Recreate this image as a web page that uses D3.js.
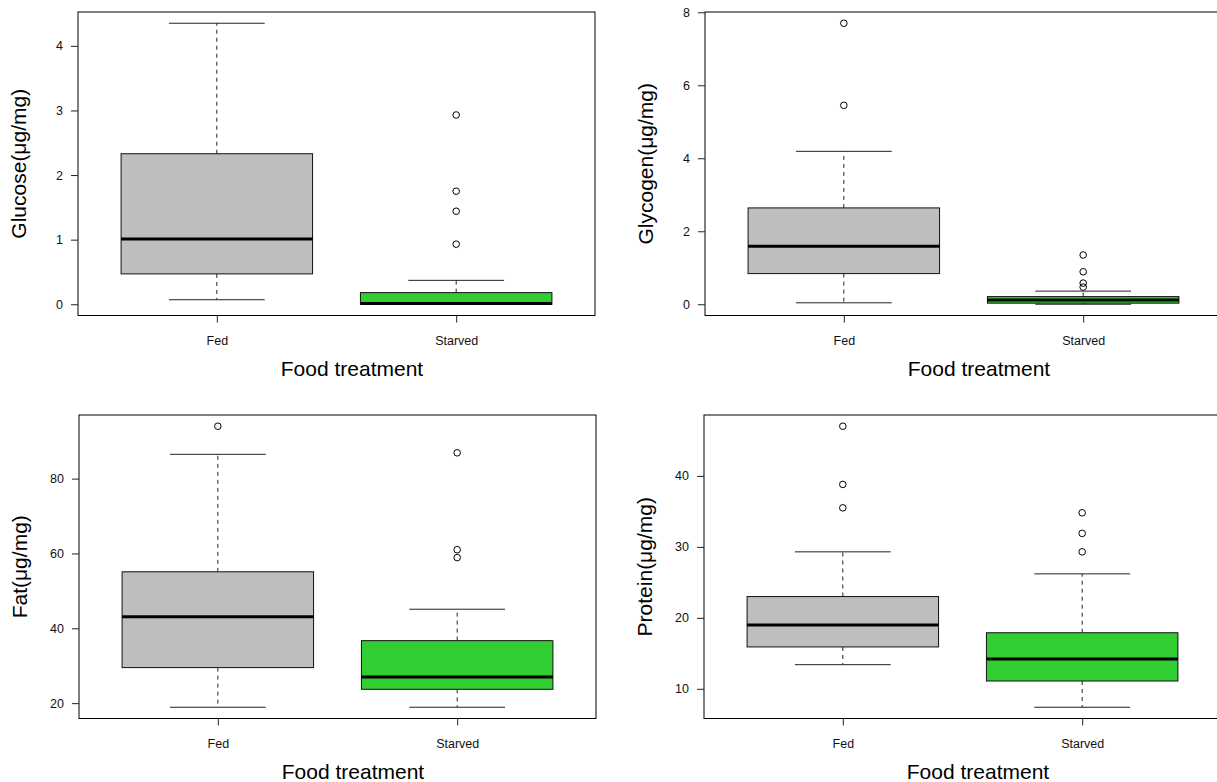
<!DOCTYPE html>
<html>
<head>
<meta charset="utf-8">
<script src="https://cdn.jsdelivr.net/npm/d3@7"></script>
<style>
  html, body { margin: 0; padding: 0; background: #fff; }
  svg { display: block; font-family: "Liberation Sans", Arial, Helvetica, sans-serif; }
</style>
</head>
<body>
<svg id="chart" width="1217" height="782"></svg>
<script>
// Treatment groups on the x axis
const groups = ["Fed", "Starved"];
const xTitle = "Food treatment";

// Five-number summaries: [lower whisker, Q1, median, Q3, upper whisker]
const glucoseFed = [0.07, 0.47, 1.01, 2.33, 4.35];
const glucoseStarved = [0.0, 0.0, 0.01, 0.18, 0.37];
const glucoseFedOut = [];
const glucoseStarvedOut = [0.93, 1.44, 1.75, 2.93];
const glucoseTicks = [0, 1, 2, 3, 4];

const glycogenFed = [0.04, 0.84, 1.59, 2.64, 4.19];
const glycogenStarved = [0.0, 0.03, 0.12, 0.21, 0.36];
const glycogenFedOut = [5.45, 7.70];
const glycogenStarvedOut = [0.47, 0.58, 0.89, 1.35];
const glycogenTicks = [0, 2, 4, 6, 8];

const fatFed = [18.9, 29.5, 43.1, 55.1, 86.5];
const fatStarved = [18.9, 23.7, 27.0, 36.7, 45.1];
const fatFedOut = [94.0];
const fatStarvedOut = [58.9, 61.0, 86.9];
const fatTicks = [20, 40, 60, 80];

const proteinFed = [13.4, 15.9, 19.0, 23.0, 29.3];
const proteinStarved = [7.4, 11.1, 14.2, 17.9, 26.2];
const proteinFedOut = [35.5, 38.8, 47.0];
const proteinStarvedOut = [29.3, 31.9, 34.8];
const proteinTicks = [10, 20, 30, 40];

const fills = ["#bebebe", "#32cd32"];

const panels = [
  { title: "Glucose(μg/mg)", stats: [glucoseFed, glucoseStarved], out: [glucoseFedOut, glucoseStarvedOut], ticks: glucoseTicks, left: 78, top: 12 },
  { title: "Glycogen(μg/mg)", stats: [glycogenFed, glycogenStarved], out: [glycogenFedOut, glycogenStarvedOut], ticks: glycogenTicks, left: 705, top: 12 },
  { title: "Fat(μg/mg)", stats: [fatFed, fatStarved], out: [fatFedOut, fatStarvedOut], ticks: fatTicks, left: 79, top: 415 },
  { title: "Protein(μg/mg)", stats: [proteinFed, proteinStarved], out: [proteinFedOut, proteinStarvedOut], ticks: proteinTicks, left: 704, top: 415 }
];

const W = 517, H = 303.5;
const svg = d3.select("#chart");

panels.forEach(p => {
  const g = svg.append("g").attr("transform", `translate(${p.left},${p.top})`);

  // value range padded by 4% on each side
  const all = p.stats.flat().concat(p.out.flat());
  const lo = d3.min(all), hi = d3.max(all), pad = 0.04 * (hi - lo);
  const y = d3.scaleLinear().domain([lo - pad, hi + pad]).range([H, 0]);
  const x = d3.scaleLinear().domain([0.42, 2.58]).range([0, W]);
  const bw = x(0.8) - x(0);

  groups.forEach((name, i) => {
    const s = p.stats[i];
    const cx = x(i + 1);
    const b = g.append("g");
    // dashed whiskers
    b.append("line").attr("x1", cx).attr("x2", cx).attr("y1", y(s[3])).attr("y2", y(s[4]))
      .attr("stroke", "#222").attr("stroke-dasharray", "4,4");
    b.append("line").attr("x1", cx).attr("x2", cx).attr("y1", y(s[1])).attr("y2", y(s[0]))
      .attr("stroke", "#222").attr("stroke-dasharray", "4,4");
    // whisker caps
    [s[0], s[4]].forEach(v => {
      b.append("line").attr("x1", cx - bw / 4).attr("x2", cx + bw / 4)
        .attr("y1", y(v)).attr("y2", y(v)).attr("stroke", "#222");
    });
    // box
    b.append("rect").attr("x", cx - bw / 2).attr("width", bw)
      .attr("y", y(s[3])).attr("height", y(s[1]) - y(s[3]))
      .attr("fill", fills[i]).attr("stroke", "#111");
    // median
    b.append("line").attr("x1", cx - bw / 2).attr("x2", cx + bw / 2)
      .attr("y1", y(s[2])).attr("y2", y(s[2])).attr("stroke", "#000").attr("stroke-width", 3);
    // outliers
    b.selectAll("circle").data(p.out[i]).join("circle")
      .attr("cx", cx).attr("cy", d => y(d)).attr("r", 3.3)
      .attr("fill", "none").attr("stroke", "#000").attr("stroke-width", 1);
  });

  // frame
  g.append("rect").attr("x", 0).attr("y", 0).attr("width", W).attr("height", H)
    .attr("fill", "none").attr("stroke", "#000");

  // y axis
  const ya = g.append("g").call(d3.axisLeft(y).tickValues(p.ticks).tickSize(7).tickPadding(8).tickFormat(d3.format("d")));
  ya.select(".domain").remove();
  ya.selectAll("line").attr("stroke", "#222");
  ya.selectAll("text").attr("font-size", 12.5).attr("fill", "#111")
    .attr("font-family", "Liberation Sans, Arial, sans-serif");

  // x axis
  const xa = g.append("g").attr("transform", `translate(0,${H})`)
    .call(d3.axisBottom(x).tickValues([1, 2]).tickSize(7).tickPadding(14).tickFormat(d => groups[d - 1]));
  xa.select(".domain").remove();
  xa.selectAll("line").attr("stroke", "#222");
  xa.selectAll("text").attr("font-size", 12.5).attr("fill", "#111")
    .attr("font-family", "Liberation Sans, Arial, sans-serif");

  // axis titles
  g.append("text").attr("x", W / 2 + 15.5).attr("y", H + 60)
    .attr("text-anchor", "middle").attr("font-size", 21).attr("fill", "#000").text(xTitle);
  g.append("text").attr("transform", `translate(-52,${H / 2}) rotate(-90)`)
    .attr("text-anchor", "middle").attr("font-size", 21).attr("fill", "#000").text(p.title);
});
</script>
</body>
</html>
